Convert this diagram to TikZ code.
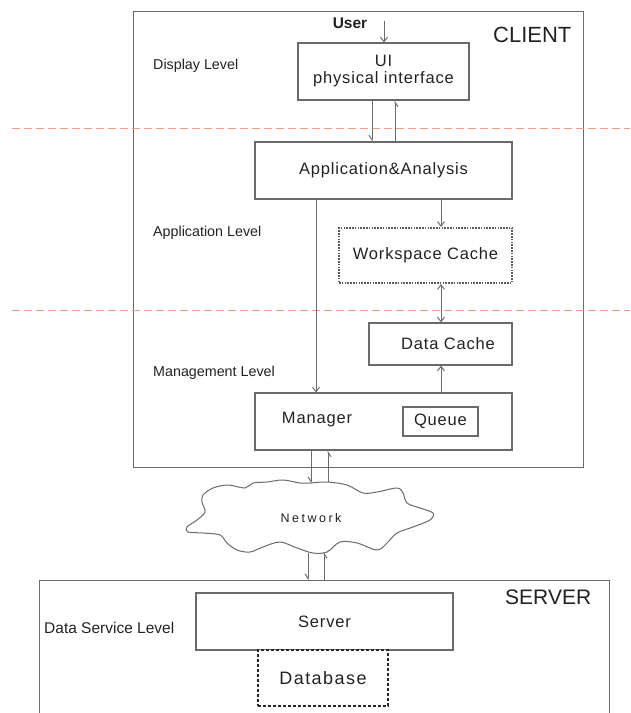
\documentclass[tikz,border=0pt]{standalone}
\usepackage{fontspec}
\setmainfont{Liberation Sans}
\usetikzlibrary{arrows.meta}
\definecolor{ln}{HTML}{6A6A6A}
\definecolor{rd}{HTML}{EE9E8A}
\definecolor{tx}{HTML}{222222}
\begin{document}
\begin{tikzpicture}[x=1pt,y=-1pt,
  box/.style={draw=ln,line width=1.1pt,inner sep=0pt,text=tx,fill=white},
  btxt/.style={text=tx,inner sep=0pt,font=\fontsize{16.5}{18}\selectfont\addfontfeature{LetterSpace=5}},
  lvl/.style={anchor=west,inner sep=0pt,text=tx,font=\fontsize{14.3}{17}\selectfont},
  arr/.style={draw=ln,line width=1pt,-{Straight Barb[length=4.5pt,width=7pt]}},
  darr/.style={draw=ln,line width=1pt,{Straight Barb[length=4.5pt,width=7pt]}-{Straight Barb[length=4.5pt,width=7pt]}},
  harp/.style={draw=ln,line width=1pt,-{Straight Barb[length=4.5pt,width=6pt,harpoon,swap]}},
  sepline/.style={draw=rd,line width=1pt,dash pattern=on 8pt off 4pt}]
\useasboundingbox (0,0) rectangle (630,713);
\fill[white] (0,0) rectangle (630,713);

% outer boxes
\node[box,anchor=north west,minimum width=450,minimum height=456] (client) at (133,11) {};
\node[box,anchor=north west,minimum width=570,minimum height=150] (serverbox) at (39,580) {};

% separators
\coordinate (s1a) at (12,128); \coordinate (s1b) at (630,128);
\coordinate (s2a) at (12,310); \coordinate (s2b) at (630,310);
\draw[sepline] (s1a) -- (s1b);
\draw[sepline] (s2a) -- (s2b);

% titles
\node[anchor=west,inner sep=0pt,text=tx,font=\fontsize{22}{24}\selectfont] (clientlbl) at (493,35) {CLIENT};
\node[anchor=west,inner sep=0pt,text=tx,font=\fontsize{21}{24}\selectfont] (serverlbl) at (505,597) {SERVER};

% level labels
\node[lvl] (dlvl) at (153,66) {Display Level};
\node[lvl] (alvl) at (153,233) {Application Level};
\node[lvl] (mlvl) at (153,373) {Management Level};
\node[lvl,font=\fontsize{15.5}{17}\selectfont] (slvl) at (44,628) {Data Service Level};

% boxes
\node[box,btxt,align=center,minimum width=171,minimum height=57] (ui) at (383.5,71.5) {UI\\[-1pt]physical interface};
\node[box,btxt,minimum width=257,minimum height=57] (app) at (383.5,170.5) {Application\&Analysis};
\node[box,btxt,minimum width=173,minimum height=55,draw=ln!85!black,line width=2.2pt,dash pattern=on 1.6pt off 1.2pt] (ws) at (425.5,255.5) {Workspace Cache};
\node[box,minimum width=143,minimum height=42] (dc) at (440.5,344) {};
\node[btxt] (dctxt) at (448,344) {Data Cache};
\node[box,minimum width=257,minimum height=57] (mgr) at (383.5,421.5) {};
\node[btxt] (mgrtxt) at (317,420) {Manager};
\node[box,btxt,minimum width=75,minimum height=29] (queue) at (440.5,421.5) {Queue};

\node[box,btxt,minimum width=257,minimum height=57] (server) at (324.5,621.5) {Server};
\node[box,minimum width=130,minimum height=56,draw=black!85,line width=1.3pt,dash pattern=on 3pt off 2pt,font=\fontsize{18}{20}\selectfont\addfontfeature{LetterSpace=8}] (db) at (323,678) {Database};

% cloud
\draw[ln,line width=1pt,fill=white] plot[smooth cycle,tension=0.55] coordinates {
 (203,495) (213,488) (228,485) (245,488) (253,483) (267,482) (283,480) (300,483)
 (310,483) (327,482) (347,485) (363,493) (377,492) (397,488) (403,493) (407,503)
 (420,508) (433,513) (430,520) (413,527) (397,533) (387,543) (377,550) (357,543)
 (340,542) (327,552) (313,553) (297,548) (280,542) (263,547) (250,552) (237,550)
 (227,543) (220,535) (203,533) (188,532) (187,527) (197,520) (205,512) (202,502)};
\node[inner sep=0pt,text=tx,font=\fontsize{12.5}{14}\selectfont\addfontfeature{LetterSpace=20}] (net) at (311,518) {Network};
\coordinate (ct1) at (311,483);
\coordinate (ct2) at (328,482);
\coordinate (cb1) at (308,553);
\coordinate (cb2) at (324,552);

% user
\node[inner sep=0pt,text=tx,font=\bfseries\fontsize{15.5}{17}\selectfont] (user) at (350,23) {User};
\coordinate (uin) at (384,21);

% connectors
\draw[arr] (uin) -- (ui.north -| uin);
\draw[harp] (ui.south -| 372,0) -- (app.north -| 372,0);
\draw[harp] (app.north -| 395,0) -- (ui.south -| 395,0);
\draw[arr] (app.south -| 441,0) -- (ws.north -| 441,0);
\draw[darr] (ws.south -| 441,0) -- (dc.north -| 441,0);
\draw[arr] (app.south -| 316,0) -- (mgr.north -| 316,0);
\draw[arr] (mgr.north -| 441,0) -- (dc.south -| 441,0);
\draw[harp] (mgr.south -| ct1) -- (ct1);
\draw[harp] (ct2) -- (mgr.south -| ct2);
\draw[harp] (cb1) -- (serverbox.north -| cb1);
\draw[harp] (serverbox.north -| cb2) -- (cb2);
\end{tikzpicture}
\end{document}
